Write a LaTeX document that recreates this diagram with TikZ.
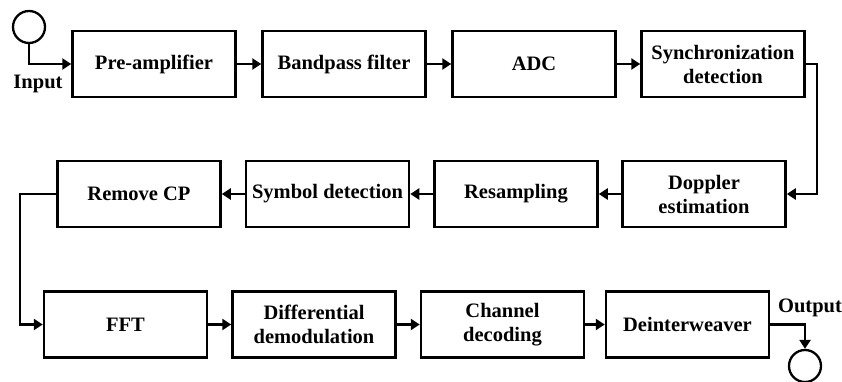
\documentclass[tikz,border=0pt]{standalone}
\usepackage{fontspec}
\setmainfont{Liberation Serif}
\usetikzlibrary{arrows.meta}
\begin{document}
\begin{tikzpicture}[x=1pt,y=-1pt,
  blk/.style={draw,line width=2.5pt,minimum width=163pt,minimum height=66pt,
    inner sep=0pt,align=center,font=\fontsize{20.5}{24}\selectfont\bfseries},
  lbl/.style={inner sep=0pt,font=\fontsize{20.5}{24}\selectfont\bfseries},
  port/.style={draw,circle,line width=2.3pt,minimum size=32pt,inner sep=0pt},
  flow/.style={line width=2.3pt,-{Triangle[length=9pt,width=11pt]}}]
\useasboundingbox (0,0) rectangle (842,382);
% first row
\node[blk] (pre)  at (154,64)  {Pre-amplifier};
\node[blk] (bpf)  at (344,64)  {Bandpass filter};
\node[blk] (adc)  at (534,64)  {ADC};
\node[blk] (sync) at (723,64)  {Synchronization\\detection};
% second row
\node[blk] (dop)  at (704,194)   {Doppler\\estimation};
\node[blk] (res)  at (516,194)   {Resampling};
\node[blk] (sym)  at (327.5,194) {Symbol detection};
\node[blk] (rcp)  at (139,194)   {Remove CP};
% third row
\node[blk] (fft)  at (125.5,324.5) {FFT};
\node[blk] (dif)  at (314,324.5)   {Differential\\demodulation};
\node[blk] (chd)  at (502.5,324.5) {Channel\\decoding};
\node[blk] (dei)  at (687.5,324.5) {Deinterweaver};
% terminals
\node[port] (in)  at (29,27)  {};
\node[port] (out) at (805,366) {};
\node[lbl] (inl)  at (38,84)  {Input};
\node[lbl] (outl) at (810,308) {Output};
% connectors
\draw[flow] (in.south) |- (pre.west);
\draw[flow] (pre) -- (bpf);
\draw[flow] (bpf) -- (adc);
\draw[flow] (adc) -- (sync);
\draw[flow] (sync.east) -- ++(11,0) |- (dop.east);
\draw[flow] (dop) -- (res);
\draw[flow] (res) -- (sym);
\draw[flow] (sym) -- (rcp);
\draw[flow] (rcp.west) -- ++(-36,0) |- (fft.west);
\draw[flow] (fft) -- (dif);
\draw[flow] (dif) -- (chd);
\draw[flow] (chd) -- (dei);
\draw[flow] (dei.east) -| (out.north);
\end{tikzpicture}
\end{document}
